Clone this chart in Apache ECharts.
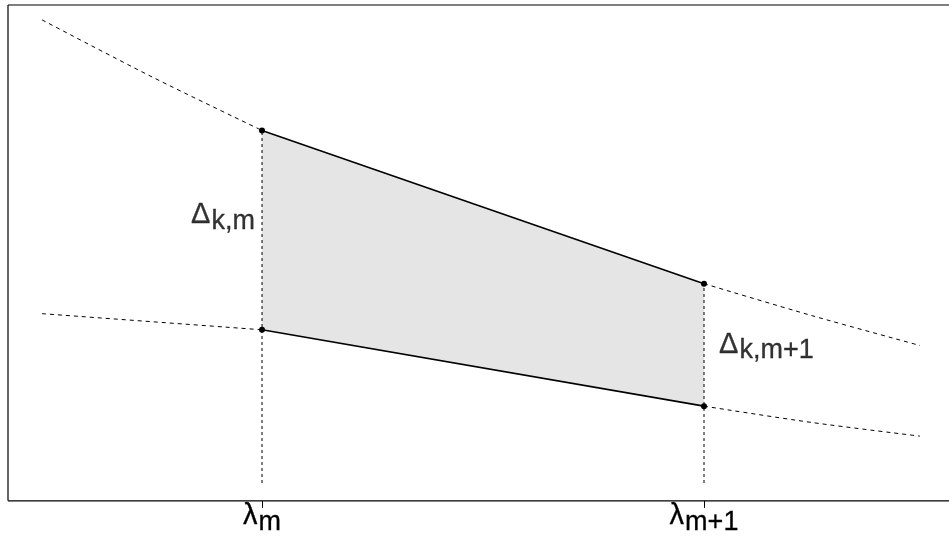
<!DOCTYPE html>
<html>
<head>
<meta charset="utf-8">
<script src="https://cdn.jsdelivr.net/npm/echarts@6/dist/echarts.min.js"></script>
<style>html,body{margin:0;padding:0;background:#fff;overflow:hidden}#c{width:949px;height:536px}</style>
</head>
<body>
<div id="c"></div>
<script>
// ---- data ----
var xMin = 0.4253, xMax = 2.5543;
var yMin = 0, yMax = 10;
var tickValues = [1, 2];
var tickLabels = ['{a|λ}{b|m}', '{a|λ}{b|m+1}'];
var chordX = [1, 2];
var upperY = [7.47, 4.38];
var lowerY = [3.45, 1.91];
var upperLeftCurve = [[0.5023, 9.70], [0.7511, 8.55], [1, 7.47]];
var upperRightCurve = [[2, 4.38], [2.2443, 3.735], [2.4887, 3.133]];
var lowerLeftCurve = [[0.5023, 3.775], [1, 3.45]];
var lowerRightCurve = [[2, 1.91], [2.2443, 1.58], [2.4887, 1.305]];
var dropBottom = 0.36;
var deltaLabels = [
  {pos: [0.8394, 5.71], text: '{a|Δ}{b|k,m}'},
  {pos: [2.034, 3.10], text: '{a|Δ}{b|k,m+1}'}
];

var FONT = 'Arial, "Liberation Sans", Helvetica, sans-serif';
var mainFs = 29, subFs = 27;
var rich = {
  a: {fontSize: mainFs, fontFamily: FONT, color: '#000', verticalAlign: 'top', lineHeight: mainFs,
      textBorderColor: '#000', textBorderWidth: 0.3},
  b: {fontSize: subFs, fontFamily: FONT, color: '#000', verticalAlign: 'top', padding: [7, 0, 0, 1],
      textBorderColor: '#000', textBorderWidth: 0.3}
};

function dashed(data) {
  return {type: 'line', data: data, showSymbol: false, symbol: 'none', smooth: 0.3,
    lineStyle: {color: '#000', width: 1, type: [4, 4]}, silent: true, z: 3};
}
function frame(data) {
  return {type: 'line', data: data, symbol: 'none', silent: true, clip: false, z: 6,
    lineStyle: {color: '#000', width: 1.2}};
}

var chart = echarts.init(document.getElementById('c'), null, {renderer: 'canvas'});
chart.setOption({
  animation: false,
  grid: {left: 8, right: 0, top: 5, bottom: 33, containLabel: false},
  xAxis: {
    type: 'value', min: xMin, max: xMax, position: 'bottom',
    splitLine: {show: false},
    axisLine: {show: false, onZero: false},
    axisTick: {show: true, customValues: tickValues, length: 7, lineStyle: {color: '#000', width: 1}},
    axisLabel: {show: true, customValues: tickValues, margin: 1, rich: rich,
      formatter: function (v) { return tickLabels[tickValues.indexOf(v)] || ''; }}
  },
  yAxis: {
    type: 'value', min: yMin, max: yMax,
    splitLine: {show: false}, axisTick: {show: false}, axisLabel: {show: false},
    axisLine: {show: false, onZero: false}
  },
  series: [
    {
      type: 'custom', z: 1, silent: true,
      data: [0],
      renderItem: function (params, api) {
        var pts = [];
        for (var i = 0; i < chordX.length; i++) pts.push(api.coord([chordX[i], upperY[i]]));
        for (var j = chordX.length - 1; j >= 0; j--) pts.push(api.coord([chordX[j], lowerY[j]]));
        return {type: 'polygon', shape: {points: pts}, style: {fill: '#e5e5e5', stroke: null}};
      }
    },
    frame([[xMin, yMax], [xMax, yMax]]),
    frame([[xMin, yMin], [xMax, yMin]]),
    frame([[xMin, yMin], [xMin, yMax]]),
    dashed(upperLeftCurve), dashed(upperRightCurve), dashed(lowerLeftCurve), dashed(lowerRightCurve),
    {type: 'line', data: [[chordX[0], dropBottom], [chordX[0], upperY[0]]], symbol: 'none', silent: true, z: 2,
      lineStyle: {color: '#000', width: 1, type: [3, 3]}},
    {type: 'line', data: [[chordX[1], dropBottom], [chordX[1], upperY[1]]], symbol: 'none', silent: true, z: 2,
      lineStyle: {color: '#000', width: 1, type: [3, 3]}},
    {type: 'line', data: chordX.map(function (x, i) { return [x, upperY[i]]; }), symbol: 'circle', symbolSize: 6,
      showSymbol: true, silent: true, z: 4, itemStyle: {color: '#000'}, lineStyle: {color: '#000', width: 1.6}},
    {type: 'line', data: chordX.map(function (x, i) { return [x, lowerY[i]]; }), symbol: 'circle', symbolSize: 6,
      showSymbol: true, silent: true, z: 4, itemStyle: {color: '#000'}, lineStyle: {color: '#000', width: 1.6}},
    {
      type: 'scatter', symbolSize: 0, silent: true, z: 5,
      data: deltaLabels.map(function (d) { return {value: d.pos, label: {formatter: d.text}}; }),
      label: {show: true, position: 'right', distance: 0, rich: rich}
    }
  ]
});
</script>
</body>
</html>
